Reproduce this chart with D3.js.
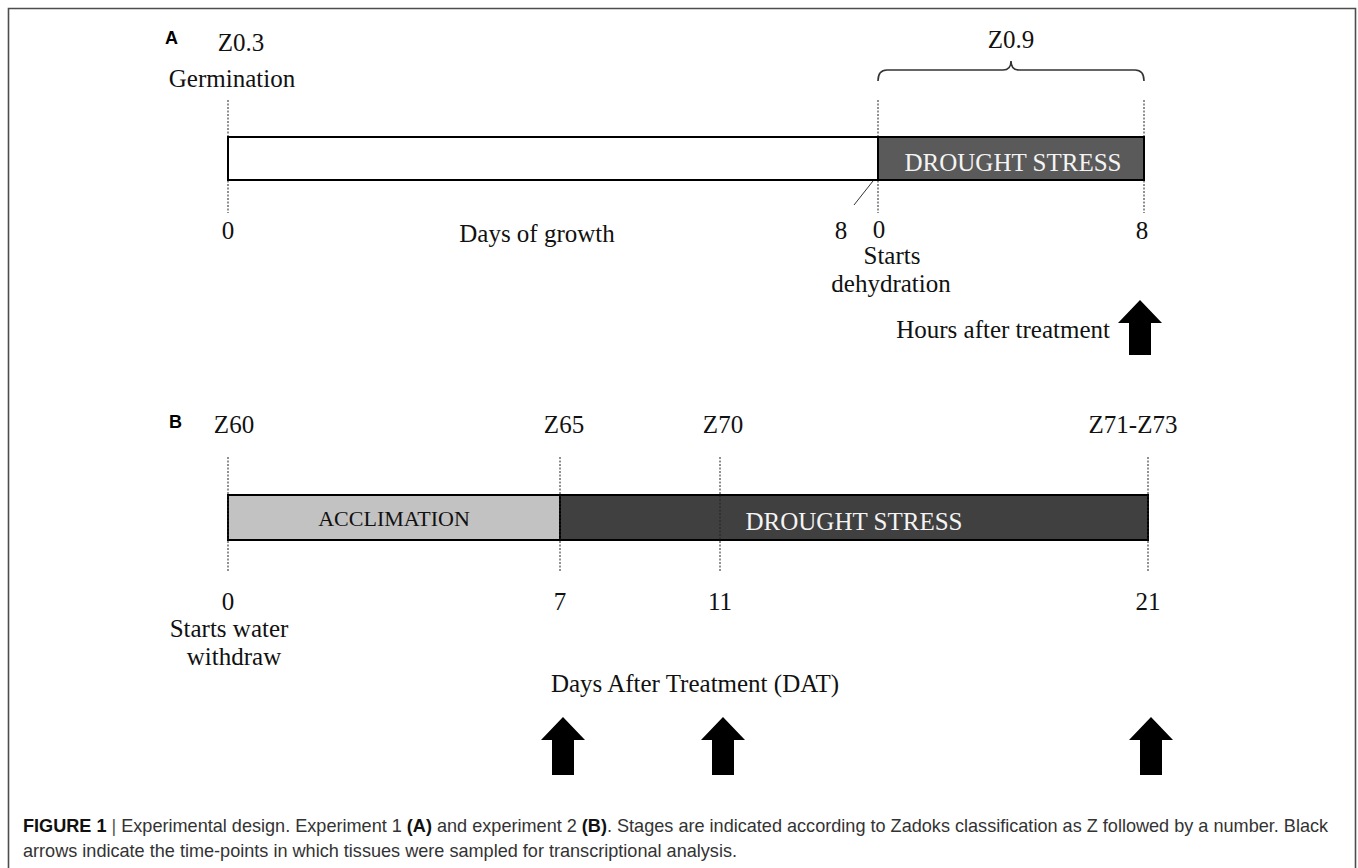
<!DOCTYPE html>
<html><head><meta charset="utf-8">
<script src="https://cdn.jsdelivr.net/npm/d3@7"></script>
<style>
html,body{margin:0;padding:0;background:#fff;}
svg{display:block;}
.serif{font-family:"Liberation Serif","Times New Roman",serif;}
</style></head>
<body>
<svg id="fig" width="1358" height="868"></svg>
<script>
// ---------------- DATA ----------------
// Panel A: growth period (days) then drought treatment (hours)
const growthDays = [0, 8];
const treatmentHours = [0, 8];
const panelAStageLabels = ["Z0.3", "Z0.9"];
const panelASegments = [
  {name: "", unit: "days", start: 0, end: 8},
  {name: "DROUGHT STRESS", unit: "hours", start: 0, end: 8}
];
const panelASampleHours = [8];
const panelATexts = ["Germination", "Days of growth", "Starts", "dehydration", "Hours after treatment"];

// Panel B: days after treatment
const panelBDays = [0, 7, 11, 21];
const panelBStageLabels = ["Z60", "Z65", "Z70", "Z71-Z73"];
const panelBSegments = [
  {name: "ACCLIMATION", start: 0, end: 7},
  {name: "DROUGHT STRESS", start: 7, end: 21}
];
const panelBSampleDays = [7, 11, 21];
const panelBTexts = ["Starts water", "withdraw", "Days After Treatment (DAT)"];

const captionLine1 = [
  {t: "FIGURE 1", b: true}, {t: " | ", b: false, bar: true},
  {t: "Experimental design. Experiment 1 ", b: false}, {t: "(A)", b: true},
  {t: " and experiment 2 ", b: false}, {t: "(B)", b: true},
  {t: ". Stages are indicated according to Zadoks classification as Z followed by a number. Black", b: false}
];
const captionLine2 = "arrows indicate the time-points in which tissues were sampled for transcriptional analysis.";

// ---------------- LAYOUT ----------------
const svg = d3.select("#fig");
const W = 1358, H = 868;

// frame
svg.append("path")
  .attr("d", `M8.5,${H} L8.5,8.5 L1355.5,8.5 L1355.5,${H}`)
  .attr("fill", "none").attr("stroke", "#4d4d4d").attr("stroke-width", 1.6);

// scales
const xDays = d3.scaleLinear().domain(d3.extent(growthDays)).range([228, 878]);
const xHours = d3.scaleLinear().domain(d3.extent(treatmentHours)).range([878, 1144]);
const xB = d3.scaleLinear().domain(panelBDays).range([228, 560, 720, 1148]);

const FS = 25;

function dashed(g, x, y1, y2) {
  g.append("line").attr("x1", x).attr("x2", x).attr("y1", y1).attr("y2", y2)
    .attr("stroke", "#222").attr("stroke-width", 1).attr("stroke-dasharray", "2,1.5");
}
function arrow(g, cx, top, h) {
  const hw = 22, sw = 11, hh = 23;
  const pts = [[cx, top], [cx + hw, top + hh], [cx + sw, top + hh], [cx + sw, top + h],
               [cx - sw, top + h], [cx - sw, top + hh], [cx - hw, top + hh]];
  g.append("polygon").attr("points", pts.map(p => p.join(",")).join(" ")).attr("fill", "#000");
}
function txt(g, x, y, s, opts = {}) {
  return g.append("text").attr("class", "serif").attr("x", x).attr("y", y)
    .attr("font-size", opts.size || FS).attr("text-anchor", opts.anchor || "middle")
    .style("fill", opts.fill || "#111").text(s);
}

// ---------------- PANEL A ----------------
const gA = svg.append("g");
gA.append("text").attr("x", 165).attr("y", 44).attr("font-family", "Liberation Sans, Arial, sans-serif")
  .attr("font-weight", "bold").attr("font-size", 18).attr("fill", "#000").text("A");

const barAy = 137, barAh = 43;
// dashed guides
dashed(gA, xDays(0), 100, 213);
dashed(gA, xHours(0), 100, 213);
dashed(gA, xHours(8), 100, 213);

// segments
panelASegments.forEach(s => {
  const sc = s.unit === "days" ? xDays : xHours;
  const x0 = sc(s.start), x1 = sc(s.end);
  gA.append("rect").attr("x", x0).attr("y", barAy).attr("width", x1 - x0).attr("height", barAh)
    .attr("fill", s.name ? "#5a5a5a" : "#fff").attr("stroke", "#000").attr("stroke-width", 2);
  if (s.name) txt(gA, (x0 + x1) / 2 + 2, 171, s.name, {fill: "#f4f4f4"});
});

// stage labels
txt(gA, xDays(0) + 13, 51, panelAStageLabels[0]);
txt(gA, 232, 87, panelATexts[0]);
const bx0 = xHours(0), bx1 = xHours(8), bm = (bx0 + bx1) / 2, by = 70;
gA.append("path")
  .attr("d", `M${bx0},${by + 11} Q${bx0},${by} ${bx0 + 9},${by} L${bm - 8},${by} Q${bm},${by} ${bm},${by - 9} Q${bm},${by} ${bm + 8},${by} L${bx1 - 9},${by} Q${bx1},${by} ${bx1},${by + 11}`)
  .attr("fill", "none").attr("stroke", "#333").attr("stroke-width", 1.6);
txt(gA, bm, 48, panelAStageLabels[1]);

// ticks
txt(gA, xDays(0), 239, String(growthDays[0]));
txt(gA, xDays(8) - 37, 239, String(growthDays[1]));
txt(gA, xHours(0) + 1, 238, String(treatmentHours[0]));
txt(gA, xHours(8) - 2, 239, String(treatmentHours[1]));
gA.append("line").attr("x1", xHours(0) - 5).attr("y1", 181).attr("x2", xHours(0) - 24).attr("y2", 205)
  .attr("stroke", "#333").attr("stroke-width", 1);
txt(gA, 537, 242, panelATexts[1]);
txt(gA, 892, 264, panelATexts[2]);
txt(gA, 891, 292, panelATexts[3]);
txt(gA, 1110, 338, panelATexts[4], {anchor: "end"});
panelASampleHours.forEach(h => arrow(gA, xHours(h) - 4, 300, 55));

// ---------------- PANEL B ----------------
const gB = svg.append("g");
gB.append("text").attr("x", 169).attr("y", 428).attr("font-family", "Liberation Sans, Arial, sans-serif")
  .attr("font-weight", "bold").attr("font-size", 18).attr("fill", "#000").text("B");

const barBy = 495, barBh = 45;
panelBSegments.forEach((s, i) => {
  const x0 = xB(s.start), x1 = xB(s.end);
  gB.append("rect").attr("x", x0).attr("y", barBy).attr("width", x1 - x0).attr("height", barBh)
    .attr("fill", i === 0 ? "#c2c2c2" : "#404040").attr("stroke", "#000").attr("stroke-width", 2);
});
panelBDays.forEach(d => dashed(gB, xB(d), 457, 571));
txt(gB, (xB(0) + xB(7)) / 2, 526, panelBSegments[0].name, {size: 22});
txt(gB, 854, 530, panelBSegments[1].name, {fill: "#f4f4f4"});

const stageOff = [6, 4, 3, -15];
panelBStageLabels.forEach((s, i) => txt(gB, xB(panelBDays[i]) + stageOff[i], 433, s));
panelBDays.forEach(d => txt(gB, xB(d), 610, String(d)));
txt(gB, 229, 637, panelBTexts[0]);
txt(gB, 234, 665, panelBTexts[1]);
txt(gB, 695, 692, panelBTexts[2]);
panelBSampleDays.forEach(d => arrow(gB, xB(d) + 3, 717, 58));

// ---------------- CAPTION ----------------
const cap = svg.append("g").attr("font-family", "Liberation Sans, Arial, sans-serif");
const t1 = cap.append("text").attr("x", 23).attr("y", 832).attr("font-size", 16).attr("fill", "#333");
captionLine1.forEach(p => {
  t1.append("tspan").attr("font-weight", p.b ? "bold" : null)
    .attr("fill", p.b ? "#111" : (p.bar ? "#555" : "#333")).text(p.t);
});
const t2 = cap.append("text").attr("x", 23).attr("y", 857).attr("font-size", 16).attr("fill", "#333").text(captionLine2);
const len = t1.node().getComputedTextLength();
const fs = 16 * 1306 / len;
t1.attr("font-size", fs); t2.attr("font-size", fs);
</script>
</body></html>
